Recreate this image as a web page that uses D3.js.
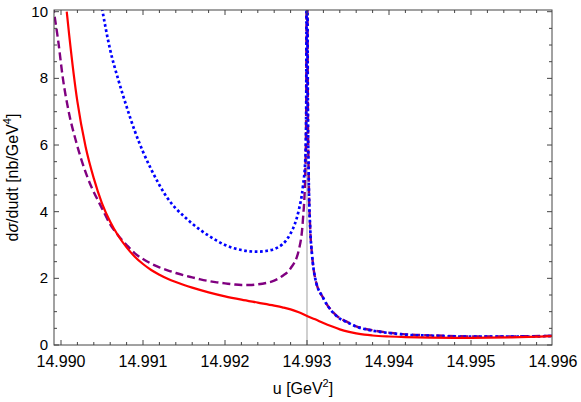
<!DOCTYPE html>
<html><head><meta charset="utf-8">
<script src="https://cdn.jsdelivr.net/npm/d3@7"></script>
<style>body{margin:0;background:#fff}svg{display:block}text{font-family:"Liberation Sans",Arial,sans-serif;fill:#000}</style>
</head><body>
<svg id="c" width="581" height="402"></svg>
<script>
// ---- data ----
const xTicks = [14.990, 14.991, 14.992, 14.993, 14.994, 14.995, 14.996];
const yTicks = [0, 2, 4, 6, 8, 10];
const poleU = 14.993;

const redU = [14.99007,14.9901,14.9902,14.9903,14.9904,14.9905,14.9906,14.9907,14.9908,14.9909,14.9910,14.9911,14.9912,14.9913,14.9914,14.9915,14.9916,14.9918,14.9920,14.9922,14.9924,14.9926,14.9927,14.9928,14.9929,14.9930,14.9931,14.9932,14.9933,14.9934,14.9935,14.9936,14.9937,14.9938,14.9940,14.9942,14.9945,14.9950,14.9955,14.9960];
const redY = [10.0,9.3,7.3,5.95,5.0,4.25,3.7,3.27,2.93,2.65,2.43,2.25,2.11,1.99,1.89,1.8,1.72,1.58,1.46,1.36,1.27,1.18,1.13,1.07,0.98,0.87,0.77,0.66,0.56,0.47,0.4,0.35,0.31,0.285,0.255,0.235,0.22,0.215,0.23,0.27];

const purpleU = [14.98990,14.98997,14.99002,14.99009,14.99019,14.99032,14.9905,14.9906,14.9907,14.9908,14.9909,14.9910,14.9911,14.9912,14.9913,14.9914,14.9915,14.9916,14.9917,14.9918,14.9919,14.9920,14.9921,14.9922,14.9923,14.9924,14.9925,14.9926,14.9927,14.9928,14.9929,14.99295,14.99298,14.99299,14.992995,14.993005,14.99301,14.99302,14.99304,14.99306,14.9931,14.9932,14.99336,14.9935,14.9936,14.9937,14.9938,14.9940,14.9942,14.9945,14.9950,14.9955,14.9960];
const purpleY = [10.2,9.05,8.05,7.05,6.05,5.05,4.1,3.62,3.28,3.0,2.75,2.58,2.44,2.33,2.24,2.16,2.09,2.03,1.97,1.92,1.88,1.85,1.82,1.8,1.8,1.82,1.86,1.93,2.07,2.3,2.85,3.75,5.25,7.0,10.5,10.5,7.5,5.2,3.45,2.75,2.0,1.4,0.88,0.68,0.56,0.49,0.44,0.37,0.32,0.29,0.26,0.26,0.28];

const blueU = [14.9905,14.9906,14.9907,14.9908,14.9909,14.9910,14.9911,14.9912,14.9913,14.9914,14.9915,14.9916,14.9917,14.9918,14.9919,14.9920,14.9921,14.9922,14.9923,14.9924,14.9925,14.9926,14.9927,14.99275,14.9928,14.99285,14.9929,14.99295,14.99298,14.99299,14.992995,14.993005,14.99301,14.99302,14.99304,14.99306,14.9931,14.9932,14.99336,14.9935,14.9936,14.9937,14.9938,14.9940,14.9942,14.9945,14.9950,14.9955,14.9960];
const blueY = [10.1,8.85,7.95,7.15,6.42,5.8,5.27,4.8,4.4,4.1,3.86,3.64,3.45,3.28,3.13,3.0,2.91,2.85,2.81,2.8,2.82,2.88,3.02,3.15,3.35,3.62,4.05,4.75,5.6,7.0,10.5,10.5,7.5,5.2,3.45,2.75,2.0,1.4,0.87,0.67,0.55,0.48,0.43,0.36,0.31,0.28,0.25,0.25,0.27];

// ---- layout ----
const L = 54, R = 552, T = 10, B = 345;
const svg = d3.select("#c");
const x = d3.scaleLinear().domain([14.990 - 7/82000, 14.990 + (R - 61)/82000]).range([L, R]);
const y = d3.scaleLinear().domain([0, (B - T)/33.33]).range([B, T]);

svg.append("clipPath").attr("id","clip").append("rect")
  .attr("x", L).attr("y", T).attr("width", R - L).attr("height", B - T);

// vertical reference line
svg.append("line").attr("x1", x(poleU)).attr("x2", x(poleU)).attr("y1", T).attr("y2", B)
  .attr("stroke", "#b0b0b0").attr("stroke-width", 1.2);

const line = d3.line().x(d => x(d[0])).y(d => y(d[1])).curve(d3.curveMonotoneX);
const g = svg.append("g").attr("clip-path", "url(#clip)");
const series = [
  {u: purpleU, v: purpleY, color: "#800080", w: 2.4, dash: "8,4"},
  {u: blueU, v: blueY, color: "#0000ff", w: 2.7, dash: "2.7,2.6"},
  {u: redU, v: redY, color: "#ff0000", w: 2.2, dash: null}
];
series.forEach(s => {
  const pts = s.u.map((u, i) => [u, s.v[i]]);
  g.append("path").attr("d", line(pts)).attr("fill", "none")
    .attr("stroke", s.color).attr("stroke-width", s.w)
    .attr("stroke-dasharray", s.dash);
});

// frame
const frameColor = "#444";
svg.append("rect").attr("x", L).attr("y", T).attr("width", R - L).attr("height", B - T)
  .attr("fill", "none").attr("stroke", frameColor).attr("stroke-width", 1);

// x ticks (inward)
const xMinor = d3.range(0, 31).map(i => 14.990 + i*0.0002).filter(v => x(v) >= L && x(v) <= R);
xMinor.forEach(v => {
  const isMajor = Math.abs(Math.round(v*1000) - v*1000) < 1e-6;
  const len = isMajor ? 5 : 3;
  svg.append("line").attr("x1", x(v)).attr("x2", x(v)).attr("y1", B).attr("y2", B - len).attr("stroke", frameColor);
  svg.append("line").attr("x1", x(v)).attr("x2", x(v)).attr("y1", T).attr("y2", T + len).attr("stroke", frameColor);
});
xTicks.forEach(v => {
  svg.append("text").attr("x", x(v)).attr("y", 367).attr("text-anchor", "middle")
    .attr("font-size", 16).text(v.toFixed(3));
});
// y ticks
d3.range(0, 21).map(i => i*0.5).forEach(v => {
  const isMajor = v % 2 === 0;
  const len = isMajor ? 5 : 3;
  svg.append("line").attr("x1", L).attr("x2", L + len).attr("y1", y(v)).attr("y2", y(v)).attr("stroke", frameColor);
  svg.append("line").attr("x1", R).attr("x2", R - len).attr("y1", y(v)).attr("y2", y(v)).attr("stroke", frameColor);
});
yTicks.forEach(v => {
  svg.append("text").attr("x", 48).attr("y", y(v) + 5).attr("text-anchor", "end")
    .attr("font-size", 15).text(v);
});

// axis titles
const xt = svg.append("text").attr("x", 303).attr("y", 394).attr("text-anchor", "middle").attr("font-size", 16);
xt.append("tspan").text("u [GeV");
xt.append("tspan").attr("font-size", 11).attr("dy", -7).text("2");
xt.append("tspan").attr("dy", 7).text("]");

const yt = svg.append("text").attr("transform", `translate(18,${(T + B)/2}) rotate(-90)`)
  .attr("text-anchor", "middle").attr("font-size", 16);
yt.append("tspan").text("d");
yt.append("tspan").attr("font-style", "italic").text("σ");
yt.append("tspan").text("/dudt [nb/GeV");
yt.append("tspan").attr("font-size", 11).attr("dy", -7).text("4");
yt.append("tspan").attr("dy", 7).text("]");
</script>
</body></html>
